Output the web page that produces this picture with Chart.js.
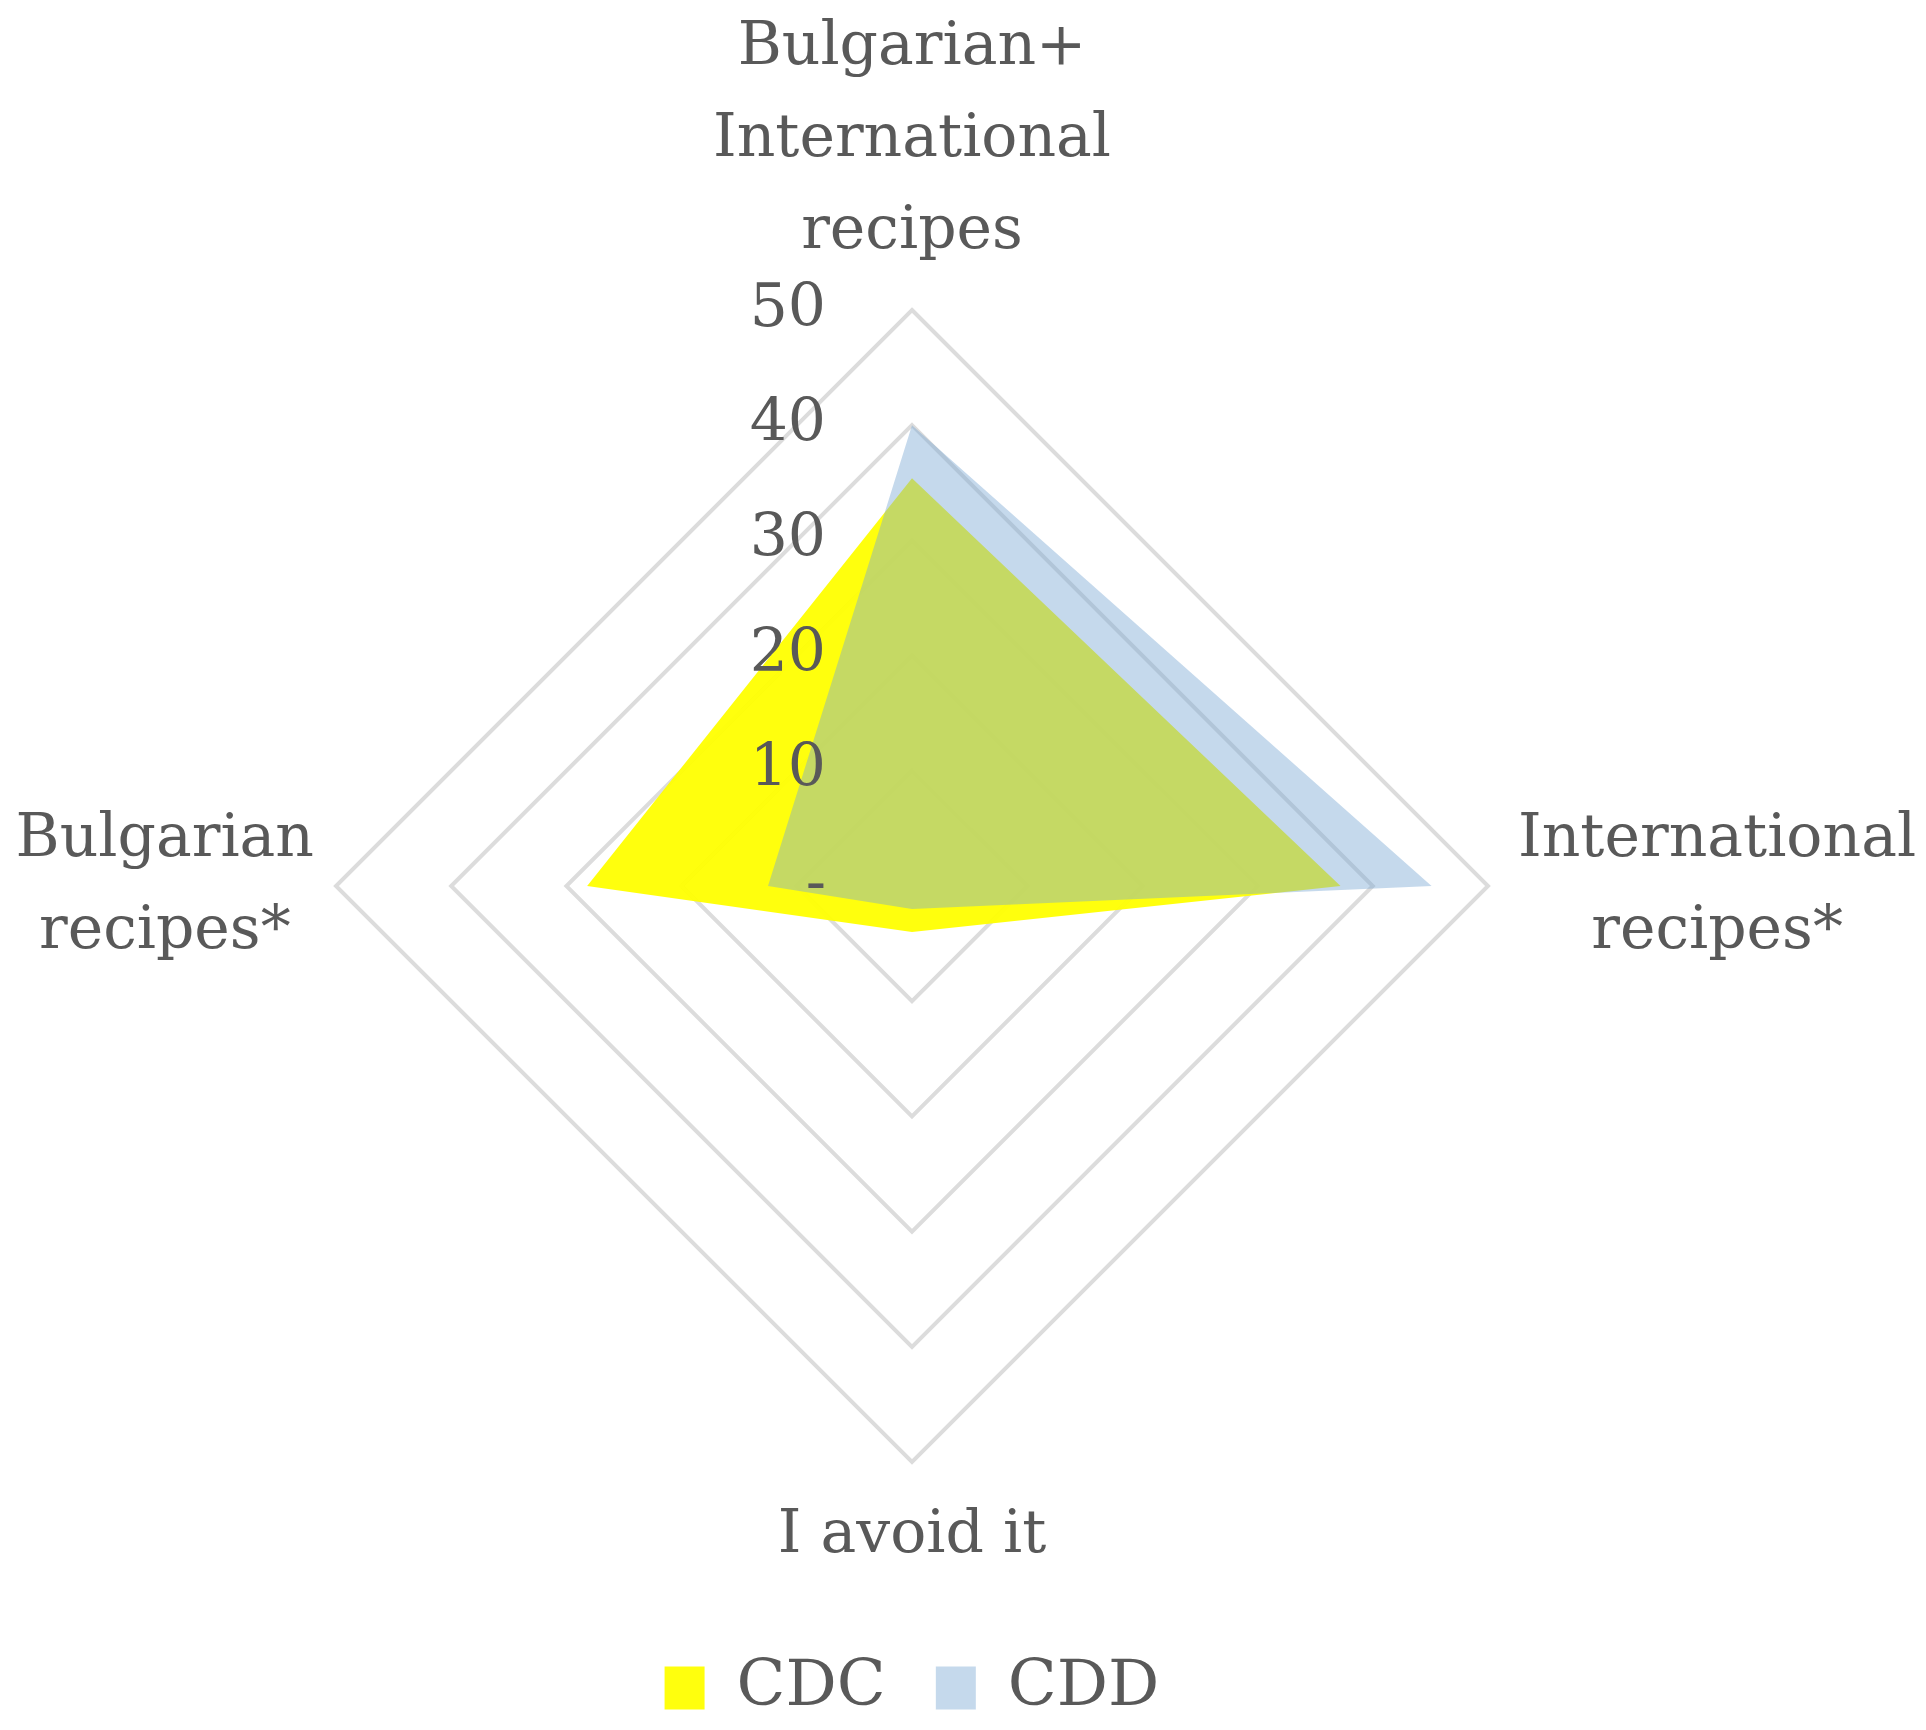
<!DOCTYPE html>
<html>
<head>
<meta charset="utf-8">
<script src="https://cdn.jsdelivr.net/npm/chart.js@4.4.1/dist/chart.umd.min.js"></script>
<style>
  html, body { margin: 0; padding: 0; background: #fff; }
  #wrap { width: 1926px; height: 1730px; position: relative; }
</style>
</head>
<body>
<div id="wrap"><canvas id="myChart"></canvas></div>
<script>
var categories = [
    ['Bulgarian+', 'International', 'recipes'],
    ['International', 'recipes*'],
    'I avoid it',
    ['Bulgarian', 'recipes*']
];
var cdcValues = [35.4, 37.2, 4.0, 28.2];
var cddValues = [40.0, 45.1, 2.0, 12.5];
var tickValues = [0, 10, 20, 30, 40, 50];
var tickLabels = ['-', '10', '20', '30', '40', '50'];

var textColor = '#595959';
var serif = "'DejaVu Serif', serif";

// axis numbers (left of the vertical axis, over the fills) and the category labels
var radarText = {
    id: 'radarText',
    afterDatasetsDraw: function (chart) {
        var scale = chart.scales.r;
        var ctx = chart.ctx;
        ctx.save();
        ctx.fillStyle = textColor;
        ctx.textBaseline = 'middle';
        ctx.font = '60px ' + serif;

        ctx.textAlign = 'right';
        scale.ticks.forEach(function (tick) {
            var d = scale.getDistanceFromCenterForValue(tick.value);
            ctx.fillText(tick.label, scale.xCenter - 86, scale.yCenter - d);
        });

        var lh = 92;
        var pads = [32, 30, 28, 22]; // gap between outer ring and each label
        ctx.textAlign = 'center';
        chart.data.labels.forEach(function (label, i) {
            var lines = [].concat(label);
            var pos = scale.getPointPosition(i, scale.drawingArea + pads[i]);
            var w = Math.max.apply(null, lines.map(function (t) { return ctx.measureText(t).width; }));
            var deg = Math.round(scale.getIndexAngle(i) * 180 / Math.PI) % 360;
            var x = pos.x, y;
            if (deg === 0) y = pos.y - lines.length * lh;
            else if (deg === 180) y = pos.y;
            else y = pos.y - lines.length * lh / 2;
            if (deg === 90) x = pos.x + w / 2;
            if (deg === 270) x = pos.x - w / 2;
            lines.forEach(function (t, k) {
                ctx.fillText(t, x, y + lh / 2 + k * lh);
            });
        });
        ctx.restore();
    }
};

var ctx = document.getElementById('myChart').getContext('2d');
var myChart = new Chart(ctx, {
    type: 'radar',
    data: {
        labels: categories,
        datasets: [{
            label: 'CDC',
            data: cdcValues,
            backgroundColor: 'rgba(255, 255, 0, 0.95)',
            borderWidth: 0,
            pointRadius: 0,
            fill: true,
            order: 1
        }, {
            label: 'CDD',
            data: cddValues,
            backgroundColor: 'rgba(122, 168, 211, 0.44)',
            borderWidth: 0,
            pointRadius: 0,
            fill: true,
            order: 0
        }]
    },
    options: {
        responsive: true,
        maintainAspectRatio: false,
        animation: false,
        layout: { padding: { left: 336, right: 438, top: 166, bottom: 0 } },
        plugins: {
            legend: {
                position: 'bottom',
                labels: {
                    font: { family: serif, size: 64 },
                    color: textColor,
                    boxWidth: 40,
                    boxHeight: 43,
                    padding: 50,
                    sort: function (a, b) { return a.datasetIndex - b.datasetIndex; }
                }
            },
            tooltip: { enabled: false }
        },
        scales: {
            r: {
                min: 0,
                max: 50,
                ticks: {
                    display: false,
                    stepSize: 10,
                    callback: function (v) {
                        var i = tickValues.indexOf(v);
                        return i >= 0 ? tickLabels[i] : '';
                    }
                },
                grid: { color: '#dcdcdc', lineWidth: 4 },
                angleLines: { display: false },
                pointLabels: { display: false }
            }
        }
    },
    plugins: [radarText]
});
</script>
</body>
</html>
